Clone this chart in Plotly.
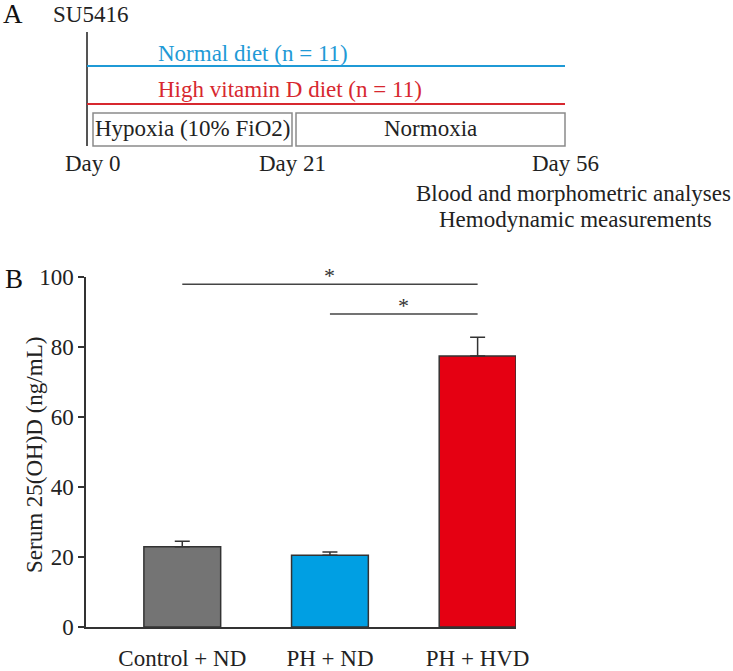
import plotly.graph_objects as go

# ---- Data (panel B) ----
groups = ["Control + ND", "PH + ND", "PH + HVD"]
means = [22.9, 20.5, 77.4]
sems = [1.6, 0.9, 5.4]
bar_colors = ["#747474", "#009fe3", "#e50012"]
y_ticks = [0, 20, 40, 60, 80, 100]
sig_pairs = [(0, 2, 97.9), (1, 2, 89.4)]  # (group a, group b, y level)
y_title = "Serum 25(OH)D (ng/mL)"

# ---- Schematic (panel A) texts ----
diet_labels = ["Normal diet (n = 11)", "High vitamin D diet (n = 11)"]
diet_colors = ["#1f9ad6", "#d7282f"]
phase_labels = ["Hypoxia (10% FiO2)", "Normoxia"]
day_labels = ["Day 0", "Day 21", "Day 56"]
end_notes = ["Blood and morphometric analyses", "Hemodynamic measurements"]

W, H = 733, 671
FONT = "Liberation Serif"
FS = 23


def px(x):
    return x / W


def py(y):
    return 1 - y / H


def text_ann(x, y, text, size=FS, color="#222222", xanchor="center", angle=0):
    return dict(xref="paper", yref="paper", x=px(x), y=py(y), text=text,
                xanchor=xanchor, yanchor="middle", showarrow=False, textangle=angle,
                font=dict(family=FONT, size=size, color=color))


fig = go.Figure()
fig.add_trace(go.Bar(
    x=groups, y=means, width=0.52,
    marker=dict(color=bar_colors, line=dict(color="#333333", width=1.5)),
    error_y=dict(type="data", array=sems, arrayminus=[0] * len(sems), symmetric=False,
                 color="#333333", thickness=1.5, width=7.5),
    showlegend=False, hoverinfo="skip",
))

shapes = []
annotations = []

# significance bars
for a, b, lvl in sig_pairs:
    shapes.append(dict(type="line", xref="x", yref="y", x0=a, x1=b, y0=lvl, y1=lvl,
                       line=dict(color="#444444", width=1.5)))
    annotations.append(dict(xref="x", yref="y", x=(a + b) / 2, y=lvl, text="*",
                            showarrow=False, xanchor="center", yanchor="bottom", yshift=-6,
                            font=dict(family=FONT, size=22, color="#333333")))

# y-axis title
annotations.append(text_ann(34, 455, y_title, angle=-90))

# panel letters
annotations.append(text_ann(13, 14, "A", size=27, color="#111111"))
annotations.append(text_ann(14, 279, "B", size=27, color="#111111"))

# schematic
annotations.append(text_ann(90, 14, "SU5416"))
shapes.append(dict(type="line", xref="paper", yref="paper", x0=px(87), x1=px(87),
                   y0=py(32), y1=py(146), line=dict(color="#555555", width=2)))
for lbl, col, ty, ly in zip(diet_labels, diet_colors, [53, 90], [66, 104]):
    annotations.append(text_ann(156, ty, lbl, color=col, xanchor="left"))
    shapes.append(dict(type="line", xref="paper", yref="paper", x0=px(87), x1=px(565),
                       y0=py(ly), y1=py(ly), line=dict(color=col, width=2)))
for lbl, (x0, x1) in zip(phase_labels, [(93, 292), (296, 565)]):
    shapes.append(dict(type="rect", xref="paper", yref="paper", x0=px(x0), x1=px(x1),
                       y0=py(113), y1=py(146), line=dict(color="#8a8a8a", width=1.5)))
    annotations.append(text_ann((x0 + x1) / 2, 129, lbl))
for lbl, xc in zip(day_labels, [93, 292, 565]):
    annotations.append(text_ann(xc, 163, lbl))
for lbl, xc, yc in zip(end_notes, [573, 575], [193, 220]):
    annotations.append(text_ann(xc, yc, lbl))

fig.update_layout(
    template="none",
    width=W, height=H,
    margin=dict(l=0, r=0, t=0, b=0, pad=0, autoexpand=False),
    paper_bgcolor="white", plot_bgcolor="white",
    font=dict(family=FONT, size=FS, color="#222222"),
    shapes=shapes, annotations=annotations,
    xaxis=dict(domain=[px(86), px(516)], range=[-0.652, 2.26], showgrid=False,
               automargin=False,
               showline=True, linecolor="#333333", linewidth=1.5, ticks="",
               ticklabelstandoff=10, tickfont=dict(family=FONT, size=FS, color="#222222"),
               zeroline=False),
    yaxis=dict(domain=[py(627), py(277)], range=[0, 100], tickvals=y_ticks,
               automargin=False,
               showgrid=False, showline=True, linecolor="#333333", linewidth=1.5,
               ticks="outside", ticklen=6, tickwidth=1.5, tickcolor="#333333",
               tickfont=dict(family=FONT, size=FS, color="#222222"), zeroline=False),
    bargap=0.48,
)

fig.write_html("out.html", config={"displayModeBar": False},
               post_script="document.body.style.margin='0';")
